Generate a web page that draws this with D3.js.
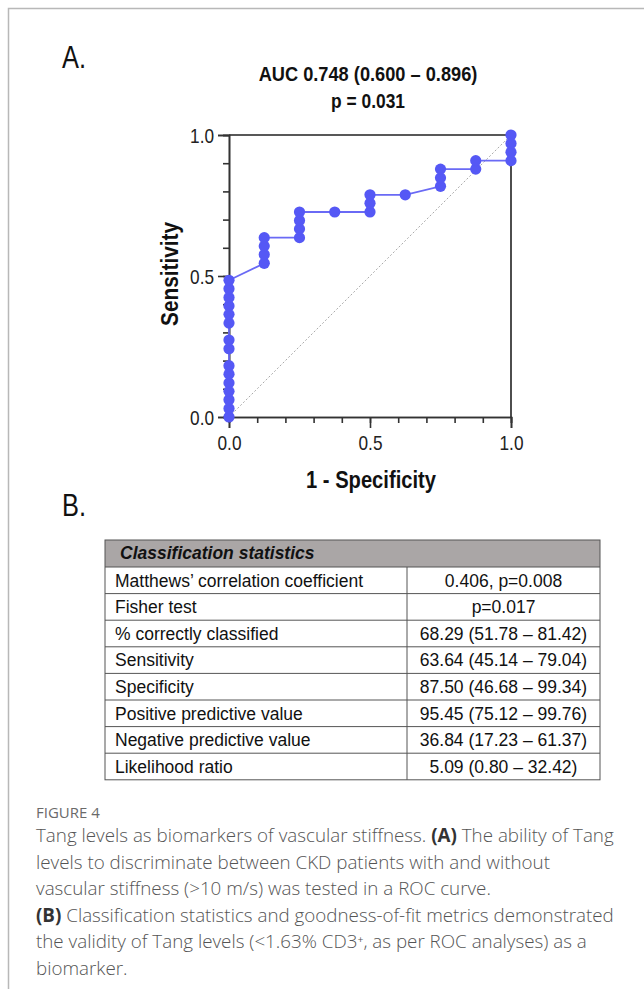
<!DOCTYPE html>
<html><head><meta charset="utf-8">
<script src="https://cdn.jsdelivr.net/npm/d3@7"></script>
<style>
html,body{margin:0;padding:0;background:#fff;}
svg{display:block;}
</style></head>
<body>
<svg id="c" width="644" height="989"></svg>
<script>
// ---- data ----
const rocFPR = [0,0,0,0,0,0,0,0,0,0,0,0,0,0,0,
  0.125,0.125,0.125,0.125,
  0.25,0.25,0.25,0.25,
  0.375,
  0.5,0.5,0.5,
  0.625,
  0.75,0.75,0.75,
  0.875,0.875,
  1,1,1,1];
const rocSens = [0,0.030,0.061,0.091,0.121,0.152,0.182,0.242,0.273,0.333,0.364,0.394,0.424,0.455,0.485,
  0.545,0.576,0.606,0.636,
  0.636,0.667,0.697,0.727,
  0.727,
  0.727,0.758,0.788,
  0.788,
  0.818,0.848,0.879,
  0.879,0.909,
  0.909,0.939,0.970,1.000];
const majorTicks = [0, 0.5, 1.0];
const minorTicks = [0,0.1,0.2,0.3,0.4,0.5,0.6,0.7,0.8,0.9,1.0];
const titleLines = ["AUC 0.748 (0.600 \u2013 0.896)", "p = 0.031"];
const xTitle = "1 - Specificity";
const yTitle = "Sensitivity";
const tableHeader = "Classification statistics";
const statNames = ["Matthews\u2019 correlation coefficient","Fisher test","% correctly classified","Sensitivity","Specificity","Positive predictive value","Negative predictive value","Likelihood ratio"];
const statValues = ["0.406, p=0.008","p=0.017","68.29 (51.78 \u2013 81.42)","63.64 (45.14 \u2013 79.04)","87.50 (46.68 \u2013 99.34)","95.45 (75.12 \u2013 99.76)","36.84 (17.23 \u2013 61.37)","5.09 (0.80 \u2013 32.42)"];
const figLabel = "FIGURE 4";
const captionLines = [
  [["Tang levels as biomarkers of vascular stiffness. ",0],["(A)",1],[" The ability of Tang",0]],
  [["levels to discriminate between CKD patients with and without",0]],
  [["vascular stiffness (>10 m/s) was tested in a ROC curve.",0]],
  [["(B)",1],[" Classification statistics and goodness-of-fit metrics demonstrated",0]],
  [["the validity of Tang levels (<1.63% CD3\u207A, as per ROC analyses) as a",0]],
  [["biomarker.",0]]
];

// ---- drawing ----
const svg = d3.select("#c");
const SANS = "'Liberation Sans',Arial,sans-serif";
const CAP = "'Open Sans','Noto Sans',sans-serif";
const NARROW_K = 0.82;

// condensed text: Liberation Sans compressed horizontally
function narrow(parent, x, y, txt, size, opts={}){
  const g = parent.append("g").attr("transform",`translate(${x},${y})${opts.rotate?` rotate(${opts.rotate})`:""}`);
  const t = g.append("text").attr("font-family",SANS).attr("font-size",size)
    .attr("font-weight",opts.bold?"bold":"normal").attr("fill",opts.fill||"#111")
    .attr("text-anchor",opts.anchor||"start").text(txt);
  let k = NARROW_K;
  if(opts.width){ k = opts.width / t.node().getComputedTextLength(); }
  t.attr("transform",`scale(${k},1)`);
  return t;
}

// frame
svg.append("path").attr("d","M8.5,989 L8.5,8.5 L644,8.5").attr("fill","none").attr("stroke","#b8b8b8").attr("stroke-width",1.5);

// panel labels
narrow(svg,62,68,"A.",31,{width:24});
narrow(svg,62,516,"B.",31,{width:24});

const x = d3.scaleLinear().domain([0,1]).range([229,511]);
const y = d3.scaleLinear().domain([0,1]).range([417,135]);

// title
narrow(svg,368,81,titleLines[0],19.5,{bold:true,anchor:"middle",width:219});
narrow(svg,368,108,titleLines[1],19.5,{bold:true,anchor:"middle",width:74});

const g = svg.append("g");
// frame top/right
g.append("path").attr("d",`M${x(0)},${y(1)} L${x(1)},${y(1)} L${x(1)},${y(0)}`).attr("fill","none").attr("stroke","#222").attr("stroke-width",1.6);

// diagonal
g.append("line").attr("x1",x(0)).attr("y1",y(0)).attr("x2",x(1)).attr("y2",y(1))
  .attr("stroke","#aaa").attr("stroke-width",1).attr("stroke-dasharray","2,2");

// axes
function styleAxis(sel){
  sel.select(".domain").attr("stroke","#333").attr("stroke-width",1.6);
  sel.selectAll(".tick line").attr("stroke","#333").attr("stroke-width",1.6);
  sel.selectAll(".tick text").attr("font-family",SANS).attr("font-size",21).attr("fill","#222");
}
const yMinor = g.append("g").attr("transform",`translate(${x(0)},0)`)
  .call(d3.axisLeft(y).tickValues(minorTicks).tickSize(6).tickFormat(""));
styleAxis(yMinor);
const yMajor = g.append("g").attr("transform",`translate(${x(0)},0)`)
  .call(d3.axisLeft(y).tickValues(majorTicks).tickSize(11).tickPadding(4).tickFormat(d3.format(".1f")));
styleAxis(yMajor);
yMajor.selectAll(".tick text").attr("dy","0.36em").attr("x",0)
  .attr("transform",`translate(-15,0) scale(${NARROW_K},1)`);
const xMinor = g.append("g").attr("transform",`translate(0,${y(0)})`)
  .call(d3.axisBottom(x).tickValues(minorTicks).tickSize(6).tickFormat(""));
styleAxis(xMinor);
const xMajor = g.append("g").attr("transform",`translate(0,${y(0)})`)
  .call(d3.axisBottom(x).tickValues(majorTicks).tickSize(11).tickPadding(7).tickFormat(d3.format(".1f")));
styleAxis(xMajor);
xMajor.selectAll(".tick text").attr("transform",`scale(${NARROW_K},1)`);

// axis titles
narrow(svg,371,488,xTitle,23,{bold:true,anchor:"middle",width:130});
narrow(svg,178,274,yTitle,23,{bold:true,anchor:"middle",width:104,rotate:-90});

// ROC line + points
const pts = rocFPR.map((v,i)=>[v,rocSens[i]]);
g.append("path").datum(pts).attr("fill","none").attr("stroke","#6a6af5").attr("stroke-width",1.8)
  .attr("d",d3.line().x(d=>x(d[0])).y(d=>y(d[1])));
g.selectAll("circle").data(pts).join("circle").attr("cx",d=>x(d[0])).attr("cy",d=>y(d[1])).attr("r",5.6).attr("fill","#5558f5");

// table
const tL=105, tR=600, tC=407, tTop=540, hH=27, rH=26.6;
const tb = svg.append("g");
tb.append("rect").attr("x",tL).attr("y",tTop).attr("width",tR-tL).attr("height",hH).attr("fill","#aaa6a6");
tb.append("text").attr("x",120).attr("y",tTop+19).attr("font-family",SANS).attr("font-weight","bold").attr("font-style","italic")
  .attr("font-size",17.5).attr("fill","#111").text(tableHeader);
const rows = tb.selectAll("g.row").data(statNames).join("g").attr("class","row")
  .attr("transform",(d,i)=>`translate(0,${tTop+hH+i*rH})`);
rows.append("line").attr("x1",tL).attr("x2",tR).attr("y1",0).attr("y2",0).attr("stroke","#555").attr("stroke-width",1);
rows.append("text").attr("x",115).attr("y",19.5).attr("font-family",SANS).attr("font-size",17.5).attr("fill","#111").text(d=>d);
rows.append("text").attr("x",(tC+tR)/2).attr("y",19.5).attr("text-anchor","middle").attr("font-family",SANS).attr("font-size",17.5).attr("fill","#111").text((d,i)=>statValues[i]);
const tBot = tTop+hH+statNames.length*rH;
tb.append("rect").attr("x",tL).attr("y",tTop).attr("width",tR-tL).attr("height",tBot-tTop).attr("fill","none").attr("stroke","#555").attr("stroke-width",1);
tb.append("line").attr("x1",tC).attr("x2",tC).attr("y1",tTop+hH).attr("y2",tBot).attr("stroke","#555").attr("stroke-width",1);

// caption
svg.append("text").attr("x",36).attr("y",818).attr("font-family",CAP).attr("font-size",15).attr("font-weight",400).attr("fill","#6a6a6a").text(figLabel);
const cap = svg.selectAll("text.cap").data(captionLines).join("text").attr("class","cap")
  .attr("x",36).attr("y",(d,i)=>842+i*26.6).attr("font-family",CAP).attr("font-size",18.8).attr("font-weight",300).attr("fill","#555");
cap.selectAll("tspan").data(d=>d).join("tspan").attr("font-weight",d=>d[1]?700:300).attr("fill",d=>d[1]?"#333":"#555").text(d=>d[0]);
</script>
</body></html>
